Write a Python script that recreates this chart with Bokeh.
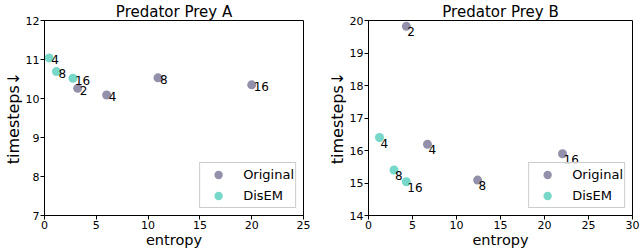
from bokeh.plotting import figure
from bokeh.layouts import row
from bokeh.models import ColumnDataSource, Legend, LegendItem, FixedTicker
from bokeh.core.properties import value
from bokeh.embed import file_html
from bokeh.resources import INLINE

FONT = "DejaVu Sans"
GRAY = "#9290aa"
TEAL = "#77d8c9"

# Predator Prey A
a_orig_x = [3.2, 6.0, 10.95, 20.0]
a_orig_y = [10.26, 10.09, 10.53, 10.35]
a_orig_lbl = ["2", "4", "8", "16"]
a_dis_x = [0.45, 1.15, 2.75]
a_dis_y = [11.04, 10.69, 10.52]
a_dis_lbl = ["4", "8", "16"]

# Predator Prey B
b_orig_x = [4.3, 6.7, 12.4, 22.05]
b_orig_y = [19.82, 16.19, 15.09, 15.9]
b_orig_lbl = ["2", "4", "8", "16"]
b_dis_x = [1.25, 2.9, 4.3]
b_dis_y = [16.4, 15.4, 15.04]
b_dis_lbl = ["4", "8", "16"]


def make(title, xr, yr, xt, yt, ox, oy, ol, dx, dy, dl, lbl_style, w, bl, br):
    p = figure(width=w, height=250, x_range=xr, y_range=yr, title=title,
               output_backend="svg", toolbar_location=None,
               min_border_left=bl, min_border_right=br, min_border_top=0,
               min_border_bottom=0)
    p.title.text_font = FONT
    p.title.text_font_size = "15px"
    p.title.text_font_style = "normal"
    p.title.text_color = "black"
    p.title.align = "center"
    p.title.offset = 0
    p.title.standoff = 0
    p.grid.visible = False
    p.outline_line_color = "black"
    p.outline_line_alpha = 1
    p.outline_line_width = 1
    for ax, ticks, lab, fs in ((p.xaxis, xt, "entropy", "14.5px"),
                               (p.yaxis, yt, "timesteps\u2193", "16px")):
        ax.ticker = FixedTicker(ticks=ticks)
        ax.axis_label = lab
        ax.axis_label_text_font = FONT
        ax.axis_label_text_font_size = fs
        ax.axis_label_text_font_style = "normal"
        ax.axis_label_text_color = "black"
        ax.axis_label_standoff = 0
        ax.major_label_text_font = FONT
        ax.major_label_text_font_size = "11px"
        ax.major_label_text_color = "black"
        ax.major_label_standoff = 1
        ax.major_tick_out = 4
        ax.major_tick_in = 0
        ax.minor_tick_out = 0
        ax.minor_tick_in = 0
        ax.axis_line_color = "black"
        ax.major_tick_line_color = "black"
    r1 = p.scatter(ox, oy, size=9, color=GRAY, line_color=None)
    r2 = p.scatter(dx, dy, size=9, color=TEAL, line_color=None)
    src_o = ColumnDataSource(dict(x=ox, y=oy, t=ol))
    src_d = ColumnDataSource(dict(x=dx, y=dy, t=dl))
    for s in (src_o, src_d):
        p.text("x", "y", text="t", source=s, text_font=value(FONT),
               text_font_size="12px", text_color="black", **lbl_style)
    leg = Legend(items=[LegendItem(label="Original", renderers=[r1]),
                        LegendItem(label="DisEM", renderers=[r2])],
                 location="bottom_right")
    leg.label_text_font = FONT
    leg.label_text_font_size = "13px"
    leg.label_text_color = "black"
    leg.label_standoff = 8
    leg.label_height = 21
    leg.glyph_width = 34
    leg.glyph_height = 21
    leg.spacing = 0
    leg.padding = 1
    leg.margin = 7
    leg.border_line_color = "#cccccc"
    leg.border_line_alpha = 1
    leg.background_fill_alpha = 0.85
    p.add_layout(leg)
    return p


pa = make("Predator Prey A", (0, 25), (7, 12), [0, 5, 10, 15, 20, 25],
          [7, 8, 9, 10, 11, 12], a_orig_x, a_orig_y, a_orig_lbl,
          a_dis_x, a_dis_y, a_dis_lbl,
          dict(text_baseline="middle", text_align="left", x_offset=2, y_offset=2),
          320, 39, 17)
pb = make("Predator Prey B", (0, 30), (14, 20), [0, 5, 10, 15, 20, 25, 30],
          [14, 15, 16, 17, 18, 19, 20], b_orig_x, b_orig_y, b_orig_lbl,
          b_dis_x, b_dis_y, b_dis_lbl,
          dict(text_baseline="top", text_align="left", x_offset=1, y_offset=1),
          320, 48, 8)

layout = row(pa, pb, spacing=0)
open("out.html", "w").write(file_html(layout, INLINE))
